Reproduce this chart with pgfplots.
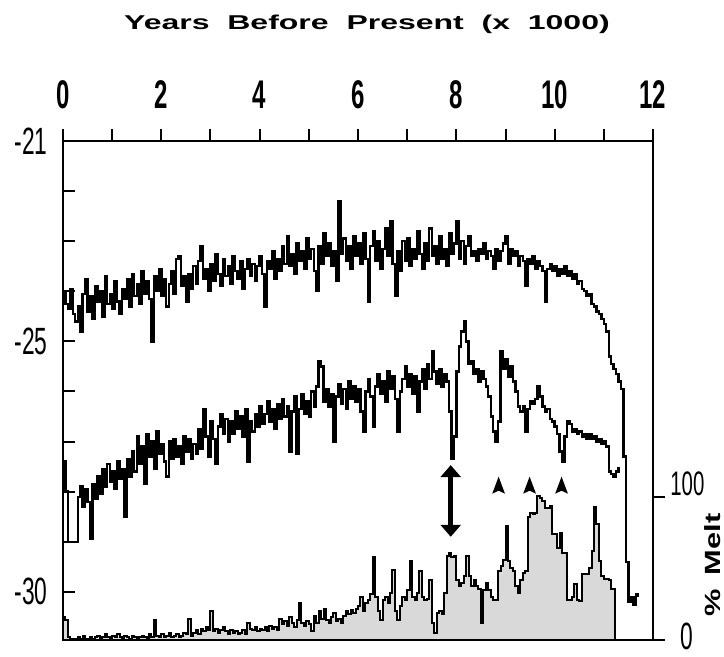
\documentclass[border=0pt]{standalone}
\usepackage{fontspec}
\setmainfont{Liberation Sans}
\usepackage{pgfplots}
\pgfplotsset{compat=1.18}
\usepackage{pgfplotstable}
\usetikzlibrary{arrows.meta}

% condensed digits, as in the scanned figure
\newcommand{\cn}[1]{\scalebox{0.6}[1]{#1}}

% x = kyr BP, U = upper record, L = lower record (per mil)
\pgfplotstableread{
x U L
0.00 -24.00 -27.40
0.05 -24.25 -28.00
0.10 -24.35 -29.00
0.15 -23.95 -29.00
0.20 -24.45 -29.00
0.25 -24.60 -29.00
0.30 -24.30 -28.10
0.35 -24.80 -27.90
0.40 -24.05 -28.30
0.45 -23.75 -27.95
0.50 -24.40 -28.20
0.55 -24.10 -28.95
0.60 -24.55 -27.85
0.65 -23.90 -28.15
0.70 -24.20 -27.70
0.75 -24.00 -28.05
0.80 -24.50 -27.55
0.85 -23.70 -27.90
0.90 -24.25 -27.45
0.95 -24.05 -27.80
1.00 -24.35 -27.60
1.05 -23.80 -27.95
1.10 -24.20 -27.40
1.15 -24.45 -27.75
1.20 -23.95 -27.55
1.25 -24.15 -28.50
1.30 -23.75 -27.35
1.35 -24.30 -27.70
1.40 -23.65 -27.20
1.45 -24.10 -27.60
1.50 -23.85 -26.90
1.55 -24.25 -27.45
1.60 -23.60 -27.10
1.65 -24.05 -27.85
1.70 -23.80 -26.85
1.75 -24.15 -27.30
1.80 -25.00 -27.00
1.85 -23.70 -27.55
1.90 -24.00 -26.80
1.95 -23.55 -27.25
2.00 -24.10 -27.05
2.05 -23.75 -27.40
2.10 -24.30 -27.70
2.15 -23.85 -27.00
2.20 -23.60 -27.35
2.25 -24.05 -26.95
2.30 -23.35 -27.30
2.35 -23.30 -27.10
2.40 -23.90 -27.45
2.45 -23.70 -26.90
2.50 -24.20 -27.20
2.55 -23.65 -26.95
2.60 -23.95 -27.35
2.65 -23.50 -27.05
2.70 -23.85 -27.25
2.75 -23.40 -26.75
2.80 -23.10 -27.15
2.85 -23.75 -26.35
2.90 -23.55 -26.90
2.95 -24.00 -27.30
3.00 -23.45 -26.60
3.05 -23.80 -26.95
3.10 -23.25 -27.45
3.15 -23.65 -26.70
3.20 -23.90 -26.45
3.25 -23.35 -26.85
3.30 -23.70 -26.55
3.35 -23.50 -27.00
3.40 -23.85 -26.60
3.45 -23.30 -26.85
3.50 -23.60 -26.40
3.55 -23.75 -26.75
3.60 -23.40 -26.50
3.65 -23.95 -26.90
3.70 -23.55 -26.35
3.75 -23.35 -27.40
3.80 -23.70 -26.60
3.85 -23.45 -26.80
3.90 -23.80 -26.45
3.95 -23.50 -26.70
4.00 -23.30 -26.30
4.05 -23.65 -26.65
4.10 -24.30 -26.45
4.15 -23.40 -26.20
4.20 -23.55 -26.60
4.25 -23.20 -26.35
4.30 -23.75 -26.75
4.35 -23.35 -26.25
4.40 -23.60 -26.55
4.45 -23.10 -26.15
4.50 -23.45 -26.50
4.55 -22.90 -26.30
4.60 -23.50 -27.20
4.65 -23.25 -26.40
4.70 -23.65 -26.10
4.75 -23.05 -27.25
4.80 -23.40 -26.35
4.85 -23.20 -26.05
4.90 -23.55 -26.45
4.95 -22.95 -26.20
5.00 -23.35 -26.50
5.05 -23.15 -26.00
5.10 -23.60 -26.30
5.15 -24.00 -25.90
5.20 -23.10 -25.40
5.25 -23.45 -25.50
5.30 -22.85 -26.20
5.35 -23.30 -25.95
5.40 -23.05 -26.30
5.45 -23.50 -26.05
5.50 -23.20 -27.00
5.55 -23.80 -26.10
5.60 -22.20 -25.85
5.65 -23.25 -26.25
5.70 -22.95 -25.95
5.75 -23.40 -26.35
5.80 -23.10 -25.80
5.85 -23.55 -26.15
5.90 -22.90 -25.90
5.95 -23.30 -26.20
6.00 -23.05 -25.95
6.05 -23.45 -26.40
6.10 -22.85 -26.80
6.15 -23.35 -26.00
6.20 -24.20 -25.75
6.25 -23.10 -26.10
6.30 -22.80 -26.70
6.35 -23.40 -25.90
6.40 -23.00 -25.65
6.45 -23.55 -26.05
6.50 -23.15 -25.80
6.55 -22.75 -26.20
6.60 -23.30 -25.60
6.65 -22.60 -25.95
6.70 -23.45 -25.70
6.75 -24.10 -26.15
6.80 -23.20 -26.80
6.85 -23.60 -26.00
6.90 -23.00 -25.75
6.95 -23.40 -25.50
7.00 -22.95 -25.90
7.05 -23.50 -25.65
7.10 -23.15 -26.05
7.15 -23.35 -25.70
7.20 -22.80 -26.40
7.25 -23.25 -25.80
7.30 -23.55 -25.55
7.35 -23.05 -25.95
7.40 -23.40 -25.45
7.45 -22.75 -25.75
7.50 -23.30 -25.20
7.55 -23.10 -25.60
7.60 -23.45 -25.85
7.65 -22.90 -25.55
7.70 -23.35 -25.90
7.75 -23.15 -25.65
7.80 -23.50 -25.80
7.85 -22.85 -26.40
7.90 -23.25 -27.35
7.95 -23.05 -26.90
8.00 -22.60 -25.60
8.05 -23.35 -25.10
8.10 -23.00 -24.80
8.15 -23.45 -24.60
8.20 -23.10 -25.00
8.25 -22.90 -25.45
8.30 -23.30 -25.40
8.35 -23.20 -25.65
8.40 -23.40 -25.55
8.45 -23.15 -25.80
8.50 -23.25 -25.60
8.55 -23.05 -25.75
8.60 -23.35 -25.90
8.65 -23.20 -26.10
8.70 -23.30 -26.50
8.75 -23.55 -26.80
8.80 -23.15 -27.00
8.85 -23.40 -26.60
8.90 -23.20 -25.20
8.95 -23.05 -25.55
9.00 -22.90 -25.35
9.05 -23.45 -25.70
9.10 -23.15 -25.50
9.15 -23.30 -25.80
9.20 -23.20 -26.00
9.25 -23.50 -26.30
9.30 -23.30 -26.40
9.35 -23.40 -26.30
9.40 -23.90 -26.80
9.45 -23.35 -26.35
9.50 -23.45 -26.20
9.55 -23.30 -26.25
9.60 -23.55 -26.15
9.65 -23.40 -25.90
9.70 -23.50 -26.10
9.75 -23.60 -26.30
9.80 -24.20 -26.40
9.85 -23.55 -26.35
9.90 -23.45 -26.55
9.95 -23.60 -26.60
10.00 -23.50 -26.70
10.05 -23.70 -26.85
10.10 -23.55 -27.20
10.15 -23.65 -27.40
10.20 -23.50 -26.90
10.25 -23.70 -26.60
10.30 -23.60 -26.65
10.35 -23.75 -26.80
10.40 -23.65 -26.75
10.45 -23.85 -26.85
10.50 -23.80 -26.80
10.55 -23.95 -26.90
10.60 -24.00 -26.85
10.65 -24.10 -26.95
10.70 -24.05 -26.85
10.75 -24.25 -26.95
10.80 -24.30 -26.90
10.85 -24.40 -27.00
10.90 -24.45 -26.95
10.95 -24.55 -27.05
11.00 -24.65 -27.00
11.05 -24.80 -27.10
11.10 -25.30 -27.60
11.15 -25.45 -27.65
11.20 -25.55 -27.70
11.25 -25.65 -27.60
11.30 -25.80 -27.50
11.35 -25.95 nan
11.40 -27.30 nan
11.45 -29.40 nan
11.50 -30.20 nan
11.55 -30.10 nan
11.60 -30.25 nan
11.65 -30.05 nan
11.70 -30.10 nan
}\iso

% percent melt
\pgfplotstableread{
x M
0.00 16
0.05 14
0.10 2
0.15 1
0.20 1
0.25 1
0.30 2
0.35 1
0.40 3
0.45 1
0.50 1
0.55 2
0.60 1
0.65 2
0.70 3
0.75 1
0.80 2
0.85 4
0.90 2
0.95 1
1.00 3
1.05 2
1.10 4
1.15 2
1.20 1
1.25 3
1.30 2
1.35 1
1.40 3
1.45 2
1.50 1
1.55 2
1.60 3
1.65 2
1.70 1
1.75 4
1.80 2
1.85 14
1.90 3
1.95 2
2.00 4
2.05 2
2.10 3
2.15 5
2.20 2
2.25 3
2.30 4
2.35 2
2.40 3
2.45 5
2.50 4
2.55 15
2.60 3
2.65 5
2.70 7
2.75 4
2.80 8
2.85 6
2.90 9
2.95 7
3.00 20
3.05 6
3.10 8
3.15 5
3.20 7
3.25 9
3.30 6
3.35 4
3.40 7
3.45 5
3.50 6
3.55 4
3.60 5
3.65 7
3.70 4
3.75 12
3.80 8
3.85 7
3.90 9
3.95 6
4.00 8
4.05 7
4.10 9
4.15 6
4.20 10
4.25 8
4.30 9
4.35 7
4.40 15
4.45 11
4.50 13
4.55 10
4.60 16
4.65 12
4.70 9
4.75 14
4.80 26
4.85 12
4.90 10
4.95 13
5.00 11
5.05 6
5.10 17
5.15 12
5.20 20
5.25 15
5.30 22
5.35 14
5.40 12
5.45 16
5.50 19
5.55 13
5.60 15
5.65 12
5.70 17
5.75 20
5.80 18
5.85 21
5.90 19
5.95 22
6.00 24
6.05 30
6.10 20
6.15 26
6.20 28
6.25 32
6.30 58
6.35 30
6.40 20
6.45 14
6.50 28
6.55 30
6.60 26
6.65 33
6.70 49
6.75 20
6.80 14
6.85 24
6.90 30
6.95 28
7.00 35
7.05 55
7.10 30
7.15 28
7.20 33
7.25 48
7.30 30
7.35 28
7.40 29
7.45 42
7.50 12
7.55 5
7.60 19
7.65 20
7.70 18
7.75 33
7.80 59
7.85 61
7.90 58
7.95 59
8.00 42
8.05 38
8.10 40
8.15 45
8.20 59
8.25 45
8.30 38
8.35 42
8.40 38
8.45 36
8.50 12
8.55 35
8.60 40
8.65 35
8.70 30
8.75 28
8.80 28
8.85 48
8.90 52
8.95 56
9.00 80
9.05 55
9.10 50
9.15 48
9.20 38
9.25 33
9.30 42
9.35 47
9.40 48
9.45 86
9.50 89
9.55 88
9.60 89
9.65 101
9.70 99
9.75 97
9.80 92
9.85 92
9.90 94
9.95 74
10.00 74
10.05 64
10.10 75
10.15 61
10.20 61
10.25 28
10.30 28
10.35 30
10.40 39
10.45 28
10.50 27
10.55 46
10.60 46
10.65 46
10.70 50
10.75 62
10.80 93
10.85 81
10.90 55
10.95 45
11.00 43
11.05 43
11.10 42
11.15 36
11.20 36
11.22 0
}\melt

\begin{document}
\begin{tikzpicture}
\path[use as bounding box] (-31.5pt,-8.5pt) rectangle (330.5pt,320pt);

\begin{axis}[
  at={(0,0)}, anchor=south west,
  width=295pt, height=249.5pt, scale only axis,
  xmin=0, xmax=12, ymin=-30.96, ymax=-21,
  axis line style={line width=1.3pt},
  tick style={black, line width=1pt},
  major tick length=6pt,
  xtick={0,...,12},
  xticklabels={\cn{0},,\cn{2},,\cn{4},,\cn{6},,\cn{8},,\cn{10},,\raisebox{-4pt}{\cn{12}}},
  xtick pos=right, xticklabel pos=right, xtick align=outside,
  xticklabel style={font=\fontsize{20}{20}\selectfont\bfseries, anchor=south, inner sep=0pt, yshift=10pt},
  ytick={-30,...,-21},
  yticklabels={\cn{-30},,,,,\cn{-25},,,,\cn{-21}},
  ytick pos=left, ytick align=inside,
  yticklabel style={font=\fontsize{19}{19}\selectfont, anchor=east, inner sep=0pt, xshift=-7.5pt},
]
\addplot[const plot, black, line width=1.2pt] table[x=x, y=U] {\iso};
\addplot[const plot, black, line width=1.2pt] table[x=x, y=L] {\iso};
% markers
\draw[line width=2.6pt, {Triangle[length=6pt,width=10pt]}-{Triangle[length=6pt,width=10pt]}]
  (axis cs:7.886,-27.47) -- (axis cs:7.886,-28.90);
\fill (axis cs:8.86,-27.70) -- (axis cs:8.73,-28.04) -- (axis cs:8.86,-27.98) -- (axis cs:8.99,-28.04) -- cycle;
\fill (axis cs:9.49,-27.70) -- (axis cs:9.36,-28.04) -- (axis cs:9.49,-27.98) -- (axis cs:9.62,-28.04) -- cycle;
\fill (axis cs:10.14,-27.70) -- (axis cs:10.01,-28.04) -- (axis cs:10.14,-27.98) -- (axis cs:10.27,-28.04) -- cycle;
\end{axis}

\begin{axis}[
  at={(0,0)}, anchor=south west,
  width=295pt, height=249.5pt, scale only axis,
  xmin=0, xmax=12, ymin=0, ymax=349,
  axis on top, clip=false,
  axis line style={line width=1.3pt},
  tick style={black, line width=1pt},
  major tick length=6pt,
  xtick=\empty,
  ytick={0,100}, yticklabels={},
  ytick pos=right, ytick align=outside,
]
\addplot[const plot, draw=black, line width=1pt, fill=gray!30] table[x=x, y=M] {\melt} \closedcycle;
\node[anchor=south west, inner sep=0pt, font=\fontsize{17}{17}\selectfont, xshift=8.5pt, yshift=0.5pt]
  at (axis cs:12,100) {\cn{100}};
\node[inner sep=0pt, font=\fontsize{19}{19}\selectfont, xshift=17pt, yshift=2pt]
  at (axis cs:12,0) {\cn{0}};
\node[xshift=30pt, rotate=90, inner sep=0pt, font=\fontsize{11}{12}\selectfont\bfseries]
  at (axis cs:12,52.5) {\scalebox{1.4}[1]{\%\hspace{5pt}Melt}};
\end{axis}

\node[font=\fontsize{10}{12}\selectfont\bfseries] at (152pt,308pt)
  {\scalebox{1.6}[1]{Years\ \ Before\ \ Present\ \ (x\ \ 1000)}};
\end{tikzpicture}
\end{document}
